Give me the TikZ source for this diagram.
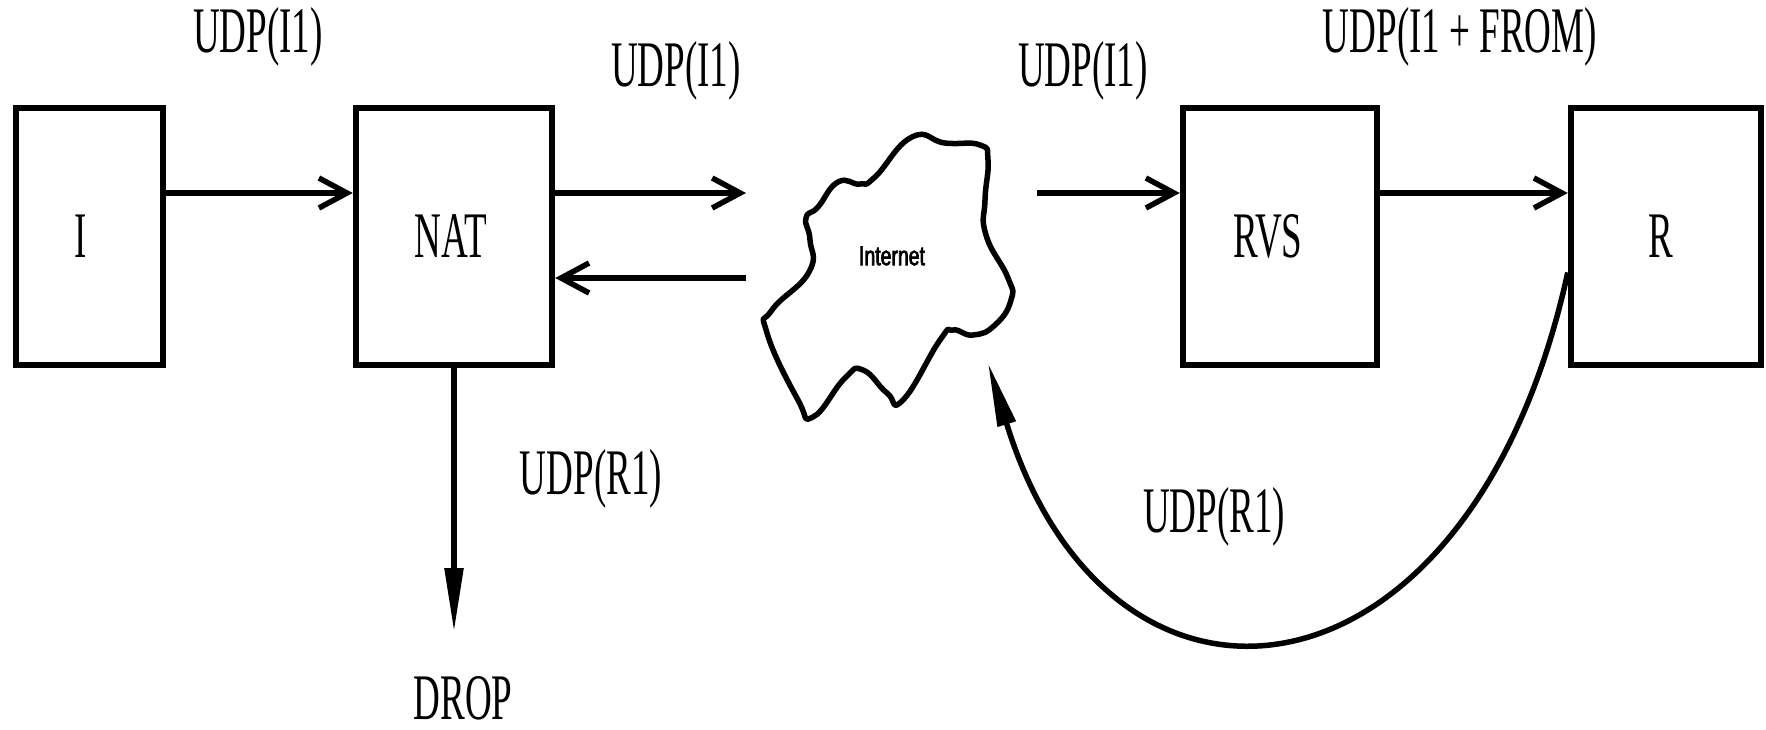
\documentclass[tikz,border=0pt]{standalone}
\usepackage{fontspec}
\usetikzlibrary{arrows.meta,calc}
\newfontfamily\condserif[FakeStretch=0.57]{Liberation Serif}
\newfontfamily\condsans[FakeStretch=0.72,FakeBold=2.5]{Liberation Sans}
\begin{document}
\begin{tikzpicture}[x=1pt,y=-1pt,
  box/.style={draw,line width=6.5pt,rectangle,inner sep=0pt,minimum height=257pt,
    font=\condserif\fontsize{65}{78}\selectfont},
  lab/.style={inner sep=0pt,font=\condserif\fontsize{65}{78}\selectfont},
  openarr/.style={line width=5.5pt,-{Straight Barb[length=28pt,width=30pt]}},
  fillarr/.style={line width=5.5pt,-{Triangle[length=64pt,width=18pt]}},
  cloudline/.style={line width=5.5pt,line join=round}]
\useasboundingbox (0,0) rectangle (1766,729);
% boxes
\node[box,minimum width=147pt] (I) at (89.5,236.5) {\hspace*{-18pt}\raisebox{-4pt}{I}};
\node[box,minimum width=196pt] (NAT) at (454,236.5) {\hspace*{-6pt}\raisebox{-4pt}{NAT}};
\node[box,minimum width=194pt] (RVS) at (1280,236.5) {\hspace*{-24pt}\raisebox{-4pt}{RVS}};
\node[box,minimum width=190pt] (R) at (1666,236.5) {\hspace*{-10pt}\raisebox{-4pt}{R}};
% cloud
\draw[cloudline] plot[smooth cycle, tension=0.85] coordinates {(912,137) (945,143) (980,145) (988,160) (985,200) (986,235) (1008,278) (1011,300) (995,325) (973,335) (953,330) (940,340) (903,400) (887,393) (863,370) (845,378) (813,417) (798,400) (767,333) (772,310) (809,272) (810,240) (806,218) (818,207) (838,182) (860,184) (875,177)};
\node[inner sep=0pt,font=\condsans\fontsize{27}{31}\selectfont] (inet) at (892,256) {Internet};
% coordinates at the cloud
\coordinate (cin) at (746,193);
\coordinate (cout) at (746,278);
\coordinate (cright) at (1037,193);
\coordinate (ctip) at (988,363);
\coordinate (droptip) at (454,632);
% arrows
\draw[openarr] (I.east |- 0,193) -- (NAT.west |- 0,193);
\draw[openarr] (NAT.east |- 0,193) -- (cin);
\draw[openarr] (cout) -- (NAT.east |- cout);
\draw[openarr] (cright) -- (RVS.west |- cright);
\draw[openarr] (RVS.east |- 0,193) -- (R.west |- 0,193);
\draw[fillarr] (NAT.south) -- (droptip);
\draw[fillarr] ($(R.west)+(0,36)$) .. controls (1470,720) and (1110,760) .. (ctip);
% labels
\node[lab] (l1) at (258,37) {UDP(I1)};
\node[lab] (l2) at (676,71) {UDP(I1)};
\node[lab] (l3) at (1083,71) {UDP(I1)};
\node[lab] (l4) at (1460,37) {UDP(I1 + FROM)};
\node[lab] (l5) at (591,479) {UDP(R1)};
\node[lab] (l6) at (1214,517) {UDP(R1)};
\node[lab] (drop) at (463,698) {DROP};
\end{tikzpicture}
\end{document}
